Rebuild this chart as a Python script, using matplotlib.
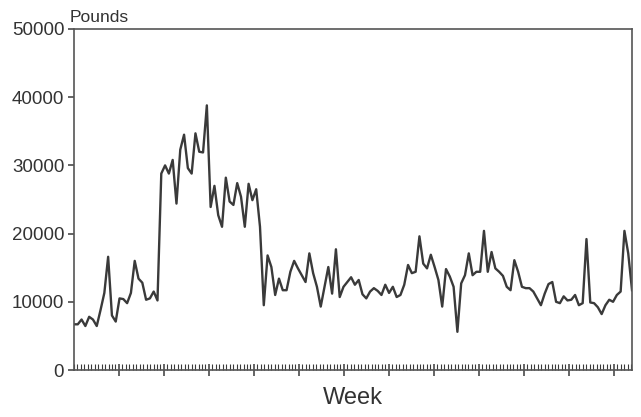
import matplotlib
matplotlib.use("Agg")
import matplotlib.pyplot as plt
from matplotlib.ticker import MultipleLocator, FixedLocator, NullFormatter
import numpy as np

# weekly sales, pounds
pounds = [
    6700, 6700, 7400, 6450, 7800, 7400, 6450, 8800, 11300, 16600,
    8000, 7100, 10500, 10400, 9800, 11300, 16000, 13400, 12800, 10300,
    10500, 11500, 10200, 28800, 30000, 28800, 30800, 24400, 32300, 34500,
    29600, 28800, 34700, 32000, 31900, 38800, 23900, 27000, 22700, 21000,
    28200, 24700, 24200, 27400, 25400, 21000, 27300, 24900, 26500, 21000,
    9500, 16800, 15100, 11000, 13400, 11700, 11700, 14400, 16000, 14900,
    13900, 12900, 17100, 14200, 12200, 9300, 12200, 15100, 11200, 17700,
    10700, 12200, 12900, 13600, 12500, 13200, 11100, 10500, 11500, 12000,
    11600, 11000, 12500, 11300, 12200, 10700, 11000, 12500, 15400, 14200,
    14400, 19600, 15600, 14900, 16900, 15100, 13200, 9300, 14800, 13700,
    12200, 5600, 12700, 13900, 17100, 13900, 14400, 14400, 20400, 14400,
    17300, 14900, 14400, 13800, 12200, 11700, 16100, 14400, 12200, 12000,
    12000, 11500, 10500, 9500, 11200, 12600, 12900, 10000, 9800, 10800,
    10200, 10300, 11000, 9500, 9800, 19200, 9900, 9800, 9200, 8200,
    9500, 10300, 10000, 11000, 11500, 20400, 17100, 11700,
]
weeks = np.arange(len(pounds))
yticks = [0, 10000, 20000, 30000, 40000, 50000]
quarter_ticks = [11.85 * k for k in range(1, 13)]

plt.rcParams['font.family'] = ['Liberation Sans', 'DejaVu Sans']
ink = '#3a3a3a'

fig = plt.figure(figsize=(6.41, 4.17), dpi=100)
ax = fig.add_axes([0.1154, 0.1127, 0.8706, 0.8178])

ax.plot(weeks, pounds, color=ink, linewidth=1.7)

ax.set_xlim(0, len(pounds) - 1)
ax.set_ylim(0, 50000)
ax.set_yticks(yticks)
ax.set_yticklabels([str(v) for v in yticks])

ax.xaxis.set_major_locator(FixedLocator(quarter_ticks))
ax.xaxis.set_minor_locator(MultipleLocator(11.85 / 13))
ax.xaxis.set_major_formatter(NullFormatter())
ax.tick_params(axis='x', which='major', direction='inout', length=9, width=1.1, color=ink)
ax.tick_params(axis='x', which='minor', direction='in', length=4, width=0.8, color=ink)
ax.tick_params(axis='y', which='major', direction='out', length=4, width=1.1, color=ink,
               labelsize=13.5, labelcolor='#333333', pad=3)

for s in ax.spines.values():
    s.set_color('#555555')
    s.set_linewidth(1.2)

ax.set_xlabel('Week', fontsize=17, color='#333333', labelpad=4)
fig.text(0.109, 1 - 22 / 417, 'Pounds', fontsize=12.5, color='#333333', va='baseline')

fig.savefig('out.png', dpi=100)
